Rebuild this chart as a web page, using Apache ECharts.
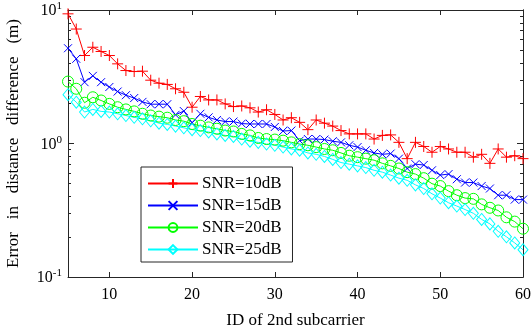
<!DOCTYPE html>
<html>
<head>
<meta charset="utf-8">
<script src="https://cdn.jsdelivr.net/npm/echarts@6/dist/echarts.min.js"></script>
<style>
  html, body { margin: 0; padding: 0; background: #fff; }
  #chart { width: 531px; height: 330px; }
</style>
</head>
<body>
<div id="chart"></div>
<script>
// subcarrier ids on the x axis
const subcarrierIds = [5, 6, 7, 8, 9, 10, 11, 12, 13, 14, 15, 16, 17, 18, 19, 20, 21, 22, 23, 24, 25, 26, 27, 28, 29, 30,
  31, 32, 33, 34, 35, 36, 37, 38, 39, 40, 41, 42, 43, 44, 45, 46, 47, 48, 49, 50, 51, 52, 53, 54, 55, 56, 57, 58, 59, 60]

// error in distance difference (m), one array per SNR
const snr10 = [9.36, 7.2, 4.56, 5.26, 4.89, 4.56, 3.95, 3.52, 3.46, 3.48, 2.98, 2.83, 2.77, 2.57, 2.42, 1.87, 2.25, 2.12,
  2.12, 1.98, 1.89, 1.91, 1.85, 1.72, 1.79, 1.65, 1.50, 1.56, 1.44, 1.27, 1.50, 1.42, 1.35, 1.25, 1.18, 1.18, 1.18, 1.08,
  1.15, 1.16, 1.02, 0.77, 1.02, 0.95, 0.86, 0.95, 0.91, 0.86, 0.86, 0.79, 0.83, 0.71, 0.91, 0.79, 0.81, 0.77]
const snr15 = [5.17, 4.31, 2.88, 3.21, 2.88, 2.65, 2.45, 2.30, 2.19, 2.05, 1.97, 1.97, 1.97, 1.64, 1.75, 1.43, 1.67, 1.57,
  1.50, 1.46, 1.46, 1.41, 1.40, 1.40, 1.40, 1.33, 1.24, 1.25, 1.05, 1.08, 1.08, 1.07, 1.04, 1.02, 0.97, 0.94, 0.89, 0.85,
  0.83, 0.84, 0.77, 0.65, 0.70, 0.69, 0.63, 0.58, 0.59, 0.54, 0.51, 0.51, 0.48, 0.46, 0.41, 0.41, 0.38, 0.38]
const snr20 = [2.91, 2.57, 2.02, 2.22, 2.10, 1.98, 1.87, 1.80, 1.74, 1.67, 1.62, 1.59, 1.56, 1.50, 1.47, 1.40, 1.36, 1.32,
  1.29, 1.25, 1.23, 1.18, 1.15, 1.10, 1.08, 1.07, 1.05, 1.02, 0.99, 0.97, 0.94, 0.91, 0.89, 0.85, 0.81, 0.79, 0.77, 0.75,
  0.71, 0.68, 0.65, 0.61, 0.59, 0.55, 0.50, 0.48, 0.44, 0.41, 0.39, 0.385, 0.35, 0.33, 0.315, 0.28, 0.26, 0.23]
const snr25 = [2.32, 2.04, 1.72, 1.80, 1.74, 1.72, 1.67, 1.62, 1.57, 1.53, 1.48, 1.42, 1.39, 1.35, 1.31, 1.27, 1.25, 1.22,
  1.18, 1.15, 1.13, 1.08, 1.04, 1.02, 0.99, 0.97, 0.94, 0.91, 0.89, 0.85, 0.83, 0.80, 0.76, 0.72, 0.70, 0.68, 0.66, 0.63,
  0.61, 0.58, 0.55, 0.53, 0.49, 0.46, 0.42, 0.39, 0.36, 0.34, 0.32, 0.30, 0.27, 0.25, 0.22, 0.20, 0.18, 0.16]

const seriesNames = ['SNR=10dB', 'SNR=15dB', 'SNR=20dB', 'SNR=25dB']
const seriesColors = ['#ff0000', '#0000ff', '#00ff00', '#00ffff']

// tick positions
const xTicks = [10, 20, 30, 40, 50, 60]
const yMajorTicks = [0.1, 1, 10]
const yMinorTicks = [0.2, 0.3, 0.4, 0.5, 0.6, 0.7, 0.8, 0.9, 2, 3, 4, 5, 6, 7, 8, 9]

const FONT = 'Liberation Serif'
const AXIS_COLOR = '#262626'

// MATLAB-like markers: plus, cross, open circle, open diamond
const markers = [
  'path://M5,0L5,10M0,5L10,5',
  'path://M0,0L10,10M10,0L0,10',
  'path://M10,5A5,5,0,1,1,0,5A5,5,0,1,1,10,5Z',
  'path://M5,0L10,5L5,10L0,5Z'
]
const markerSizes = [11, 8, 11, [10, 12]]

const chart = echarts.init(document.getElementById('chart'))

function pairs (vals) {
  return subcarrierIds.map((x, i) => [x, vals[i]])
}

function lineSeries (idx, vals) {
  const color = seriesColors[idx]
  return {
    name: seriesNames[idx],
    type: 'line',
    data: pairs(vals),
    symbol: markers[idx],
    symbolSize: markerSizes[idx],
    showAllSymbol: true,
    lineStyle: { color: color, width: 1 },
    itemStyle: { color: 'rgba(0,0,0,0)', borderColor: color, borderWidth: 1 },
    emphasis: { disabled: true }
  }
}

const yAxisBase = {
  type: 'log',
  logBase: 10,
  min: 0.1,
  max: 10,
  axisLine: { show: true, lineStyle: { color: AXIS_COLOR, width: 1 } },
  splitLine: { show: false },
  minorTick: { show: false }
}

const xAxisBase = {
  type: 'value',
  min: 5,
  max: 60,
  axisLine: { show: true, onZero: false, lineStyle: { color: AXIS_COLOR, width: 1 } },
  splitLine: { show: false }
}

const option = {
  animation: false,
  backgroundColor: '#fff',
  grid: {
    left: 68,
    right: 8,
    top: 10,
    bottom: 53,
    containLabel: false,
    outerBoundsMode: 'none'
  },
  legend: {
    orient: 'vertical',
    left: 141,
    top: 167,
    padding: [8, 11, 4, 6],
    itemWidth: 50,
    itemHeight: 11,
    itemGap: 5,
    backgroundColor: '#fff',
    borderColor: AXIS_COLOR,
    borderWidth: 1,
    textStyle: { fontFamily: FONT, fontSize: 17, color: '#000', padding: [0, 0, 0, -1] },
    data: seriesNames
  },
  xAxis: [
    Object.assign({}, xAxisBase, {
      position: 'bottom',
      name: 'ID of 2nd subcarrier',
      nameLocation: 'middle',
      nameGap: 35,
      nameTextStyle: { fontFamily: FONT, fontSize: 17, color: '#000' },
      axisTick: { show: true, inside: true, length: 5, customValues: xTicks, lineStyle: { color: AXIS_COLOR } },
      axisLabel: { show: true, customValues: xTicks, margin: 10, fontFamily: FONT, fontSize: 16, color: '#000' }
    }),
    Object.assign({}, xAxisBase, {
      position: 'top',
      axisTick: { show: true, inside: true, length: 5, customValues: xTicks, lineStyle: { color: AXIS_COLOR } },
      axisLabel: { show: false }
    })
  ],
  yAxis: [
    Object.assign({}, yAxisBase, {
      position: 'left',
      name: 'Error   in   distance   difference   (m)',
      nameLocation: 'middle',
      nameGap: 46,
      nameTextStyle: { fontFamily: FONT, fontSize: 17, color: '#000' },
      axisTick: { show: true, inside: true, length: 6, customValues: yMajorTicks, lineStyle: { color: AXIS_COLOR } },
      axisLabel: {
        show: true,
        customValues: yMajorTicks,
        margin: 6,
        formatter: function (v) {
          const e = Math.round(Math.log10(v))
          return '{b|10}{s|' + e + '}'
        },
        rich: {
          b: { fontFamily: FONT, fontSize: 16, color: '#000', verticalAlign: 'bottom' },
          s: { fontFamily: FONT, fontSize: 11, color: '#000', verticalAlign: 'bottom', padding: [0, 0, 7, 0] }
        }
      }
    }),
    Object.assign({}, yAxisBase, {
      position: 'right',
      axisTick: { show: true, inside: true, length: 6, customValues: yMajorTicks, lineStyle: { color: AXIS_COLOR } },
      axisLabel: { show: false }
    }),
    Object.assign({}, yAxisBase, {
      position: 'left',
      axisTick: { show: true, inside: true, length: 3, customValues: yMinorTicks, lineStyle: { color: AXIS_COLOR } },
      axisLabel: { show: false }
    }),
    Object.assign({}, yAxisBase, {
      position: 'right',
      axisTick: { show: true, inside: true, length: 3, customValues: yMinorTicks, lineStyle: { color: AXIS_COLOR } },
      axisLabel: { show: false }
    })
  ],
  series: [
    lineSeries(0, snr10),
    lineSeries(1, snr15),
    lineSeries(2, snr20),
    lineSeries(3, snr25)
  ]
}

chart.setOption(option)
</script>
</body>
</html>
